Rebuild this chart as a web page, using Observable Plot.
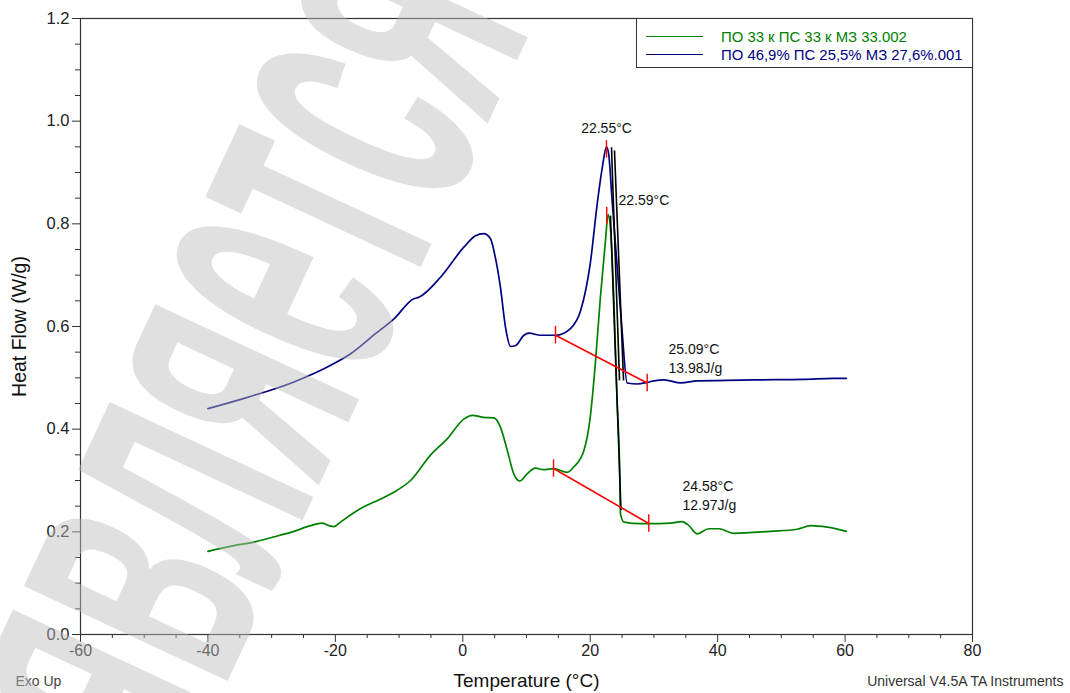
<!DOCTYPE html>
<html>
<head>
<meta charset="utf-8">
<script src="https://cdn.jsdelivr.net/npm/d3@7"></script>
<script src="https://cdn.jsdelivr.net/npm/@observablehq/plot@0.6"></script>
<style>
  html, body { margin: 0; padding: 0; background: #fff; overflow: hidden; }
  #wrap { position: relative; width: 1070px; height: 693px; font-family: "Liberation Sans", Arial, sans-serif; }
  #legend { position: absolute; left: 636px; top: 18px; width: 337px; height: 50px; border: 1px solid #333; box-sizing: border-box; background: #fff; font-size: 14.9px; }
  .row { position: absolute; left: 0; height: 18px; }
  .sw { position: absolute; left: 9px; width: 57px; top: 8.5px; height: 1.4px; }
  .lab { position: absolute; left: 84px; top: 0; line-height: 18px; white-space: nowrap; }
</style>
</head>
<body>
<div id="wrap"></div>
<script>
// ---------- data ----------
const seriesNames = ["ПО 33 к ПС 33 к МЗ 33.002", "ПО 46,9% ПС 25,5% МЗ 27,6%.001"];
const seriesColors = ["#008000", "#000080"];

const greenT = [-40, -35.9, -32.8, -29.7, -26.5, -23.9, -22.1, -21.0, -20.2, -19.2, -16.1, -12.9, -10.3, -8.2, -5.1, -2.45, 0.2, 1.5, 3.3, 4.9, 5.9, 7.0, 8.0, 8.95, 10.1, 11.4, 12.7, 14.3, 16.4, 17.4, 19.0, 20.0, 20.8, 21.6, 22.4, 22.8, 23.2, 23.7, 24.2, 24.6, 24.75, 25.3, 27.9, 29.2, 32.6, 34.4, 35.5, 36.8, 38.6, 40.2, 42.5, 48.3, 52.5, 54.6, 57.2, 60.2];
const greenHF = [0.162, 0.173, 0.180, 0.190, 0.201, 0.212, 0.217, 0.212, 0.210, 0.219, 0.245, 0.264, 0.281, 0.300, 0.349, 0.381, 0.420, 0.427, 0.423, 0.422, 0.404, 0.358, 0.313, 0.299, 0.313, 0.324, 0.321, 0.323, 0.316, 0.326, 0.358, 0.423, 0.527, 0.657, 0.768, 0.818, 0.787, 0.657, 0.462, 0.333, 0.235, 0.219, 0.216, 0.216, 0.217, 0.220, 0.212, 0.196, 0.206, 0.206, 0.197, 0.201, 0.205, 0.212, 0.209, 0.201];

const blueT = [-40, -33.8, -26.5, -20.8, -17.6, -13.7, -10.8, -7.7, -6.9, -3.5, 0.2, 2.0, 3.3, 4.35, 5.1, 5.9, 6.7, 7.5, 8.3, 9.6, 10.4, 12.2, 14.6, 16.9, 18.5, 20.0, 21.1, 21.9, 22.55, 22.9, 23.4, 24.2, 25.0, 25.8, 27.4, 28.9, 30.0, 31.6, 34.2, 36.8, 45.7, 53.5, 58.2, 60.2];
const blueHF = [0.440, 0.462, 0.492, 0.524, 0.547, 0.586, 0.615, 0.654, 0.657, 0.696, 0.755, 0.777, 0.781, 0.771, 0.735, 0.677, 0.599, 0.561, 0.563, 0.583, 0.587, 0.583, 0.583, 0.596, 0.631, 0.722, 0.839, 0.910, 0.950, 0.936, 0.852, 0.722, 0.592, 0.490, 0.488, 0.491, 0.494, 0.496, 0.490, 0.494, 0.496, 0.497, 0.499, 0.499];

// baselines (red) : start T, start HF, end T, end HF
const baseT1 = [14.55, 14.24];
const baseHF1 = [0.583, 0.3234];
const baseT2 = [28.94, 29.19];
const baseHF2 = [0.490, 0.2162];
// peak markers (red)
const peakT = [22.55, 22.59];
const peakHF = [0.945, 0.815];
// tangent lines (black)
const tanT1 = [23.34, 23.81, 23.18];
const tanHF1 = [0.949, 0.943, 0.816];
const tanT2 = [24.6, 25.23, 24.83];
const tanHF2 = [0.495, 0.495, 0.242];

// annotations
const peakLabel = ["22.55°C"];
const peakLabelT = [22.56];
const peakLabelHF = [0.986];
const noteText = ["22.59°C", "25.09°C", "13.98J/g", "24.58°C", "12.97J/g"];
const noteT = [24.44, 32.29, 32.29, 34.49, 34.49];
const noteHF = [0.845, 0.555, 0.518, 0.288, 0.251];

const xTicks = [-60, -40, -20, 0, 20, 40, 60, 80];
const xMinor = [-55, -50, -45, -35, -30, -25, -15, -10, -5, 5, 10, 15, 25, 30, 35, 45, 50, 55, 65, 70, 75];
const yTicks = [0, 0.2, 0.4, 0.6, 0.8, 1.0, 1.2];
const yMinor = [0.05, 0.1, 0.15, 0.25, 0.3, 0.35, 0.45, 0.5, 0.55, 0.65, 0.7, 0.75, 0.85, 0.9, 0.95, 1.05, 1.1, 1.15];

const xLabel = "Temperature (°C)";
const yLabel = "Heat Flow (W/g)";
const leftNote = "Exo Up";
const rightNote = "Universal V4.5A TA Instruments";
const watermark = "является";

// ---------- build tables ----------
const green = greenT.map((t, i) => ({T: t, hf: greenHF[i]}));
const blue = blueT.map((t, i) => ({T: t, hf: blueHF[i]}));
const baselines = baseT1.map((t, i) => ({x1: t, y1: baseHF1[i], x2: baseT2[i], y2: baseHF2[i]}));
const endTicks = baselines.flatMap(d => [{T: d.x1, hf: d.y1}, {T: d.x2, hf: d.y2}]);
const peaks = peakT.map((t, i) => ({T: t, hf: peakHF[i]}));
const tangents = tanT1.map((t, i) => ({x1: t, y1: tanHF1[i], x2: tanT2[i], y2: tanHF2[i]}));
const notes = noteText.map((s, i) => ({s, T: noteT[i], hf: noteHF[i]}));
const peakNotes = peakLabel.map((s, i) => ({s, T: peakLabelT[i], hf: peakLabelHF[i]}));

const FONT = "'Liberation Sans', Arial, sans-serif";
const TICKH = 0.017;

const plot = Plot.plot({
  width: 1070,
  height: 693,
  marginLeft: 80,
  marginRight: 98,
  marginTop: 18,
  marginBottom: 59,
  style: {fontFamily: FONT, fontSize: "16px", color: "#222", background: "#fff"},
  x: {domain: [-60, 80]},
  y: {domain: [0, 1.2]},
  marks: [
    Plot.frame({stroke: "#333", strokeWidth: 1.2}),
    Plot.axisX(xMinor, {tickSize: 4, tickFormat: () => "", label: null, stroke: "#333"}),
    Plot.axisX(xTicks, {tickSize: 8, tickPadding: 2, tickFormat: d => String(d), label: null, stroke: "#333", fontSize: 16}),
    Plot.axisY(yMinor, {tickSize: 5, tickFormat: () => "", label: null, stroke: "#333"}),
    Plot.axisY(yTicks, {tickSize: 8, tickPadding: 3, tickFormat: d => d.toFixed(1), label: null, stroke: "#333", fontSize: 16.5}),
    Plot.line(green, {x: "T", y: "hf", stroke: seriesColors[0], strokeWidth: 1.7, curve: "monotone-x"}),
    Plot.line(blue, {x: "T", y: "hf", stroke: seriesColors[1], strokeWidth: 1.7, curve: "monotone-x"}),
    Plot.link(tangents, {x1: "x1", y1: "y1", x2: "x2", y2: "y2", stroke: "#000", strokeWidth: 1.6}),
    Plot.link(baselines, {x1: "x1", y1: "y1", x2: "x2", y2: "y2", stroke: "#ff0000", strokeWidth: 1.6}),
    Plot.ruleX(endTicks, {x: "T", y1: d => d.hf - TICKH, y2: d => d.hf + TICKH, stroke: "#ff0000", strokeWidth: 1.4}),
    Plot.ruleX(peaks, {x: "T", y1: d => d.hf - TICKH, y2: d => d.hf + TICKH, stroke: "#ff0000", strokeWidth: 1.4}),
    Plot.text(peakNotes, {x: "T", y: "hf", text: "s", textAnchor: "middle", fontSize: 14, fill: "#111"}),
    Plot.text(notes, {x: "T", y: "hf", text: "s", textAnchor: "start", fontSize: 14, fill: "#111"}),
    Plot.text([xLabel], {frameAnchor: "bottom", dy: 52, textAnchor: "middle", fontSize: 19, fill: "#111"}),
    Plot.text([yLabel], {frameAnchor: "left", dx: -61, rotate: -90, textAnchor: "middle", fontSize: 19.5, fill: "#111"}),
    Plot.text([leftNote], {frameAnchor: "bottom-left", dx: -65, dy: 51, textAnchor: "start", fontSize: 14, fill: "#444"}),
    Plot.text([rightNote], {frameAnchor: "bottom-right", dx: 91, dy: 51, textAnchor: "end", fontSize: 14, fill: "#333"}),
    Plot.text([watermark], {frameAnchor: "middle", dx: -295, dy: 24, rotate: -65, textAnchor: "middle", fontSize: 185, fontWeight: "bold", fill: "#bdbdbd", fillOpacity: 0.47})
  ]
});

// stretch the watermark perpendicular to its baseline
d3.select(plot).selectAll("text").filter(function() { return this.textContent === watermark; })
  .each(function() {
    const t = this.getAttribute("transform") || "";
    this.setAttribute("transform", t + " scale(1,2.3)");
  });

const wrap = document.getElementById("wrap");
wrap.appendChild(plot);

// legend
const legend = document.createElement("div");
legend.id = "legend";
seriesNames.forEach((name, i) => {
  const row = document.createElement("div");
  row.className = "row";
  row.style.top = (i === 0 ? 8.5 : 26.5) + "px";
  row.style.width = "100%";
  const sw = document.createElement("div");
  sw.className = "sw";
  sw.style.background = seriesColors[i];
  const lab = document.createElement("div");
  lab.className = "lab";
  lab.style.color = seriesColors[i];
  lab.textContent = name;
  row.appendChild(sw);
  row.appendChild(lab);
  legend.appendChild(row);
});
wrap.appendChild(legend);
</script>
</body>
</html>
